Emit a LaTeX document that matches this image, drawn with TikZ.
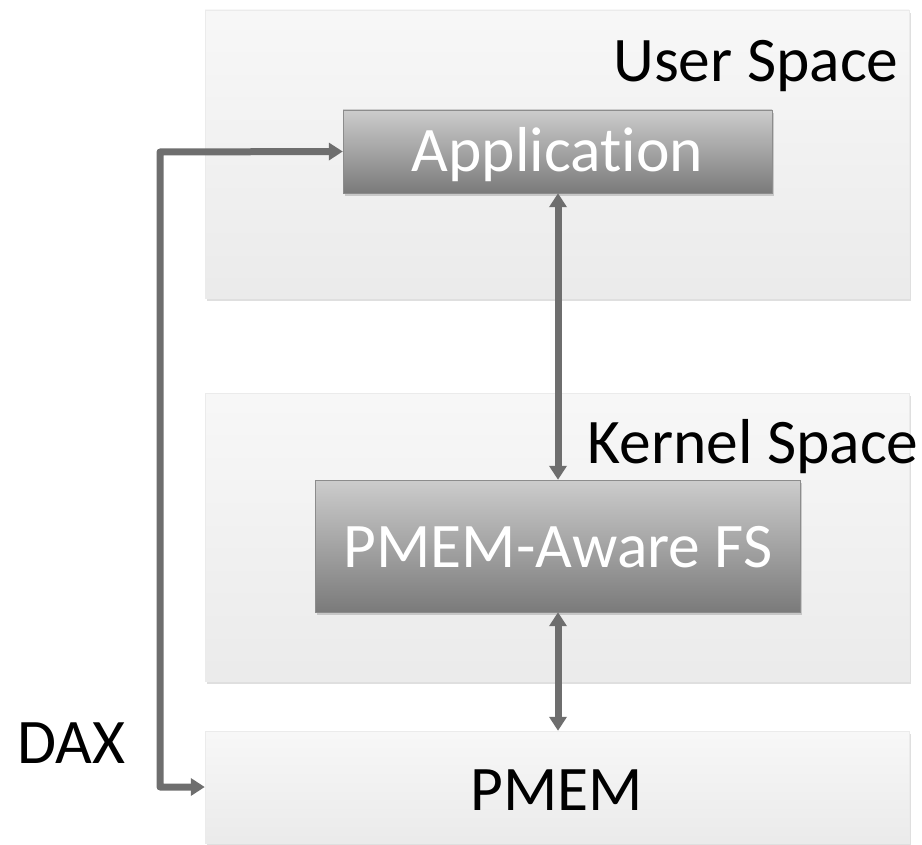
\documentclass[tikz,border=0pt]{standalone}
\usepackage{fontspec}
\setmainfont{Carlito}[Ligatures=NoCommon]
\usetikzlibrary{arrows.meta}
\usetikzlibrary{shadows}
\tikzset{
	every node/.style = {font=\fontsize{63.5}{66}\selectfont},
	space/.style = {draw=black!8, top color=black!3, bottom color=black!8, inner sep=0pt,
		drop shadow={shadow xshift=2pt, shadow yshift=-3pt, opacity=.25}},
	layer/.style = {draw=black!45, top color=black!20, bottom color=black!52, text=white, inner sep=0pt,
		drop shadow={shadow xshift=2pt, shadow yshift=-3pt, opacity=.35}},
	link/.style = {draw=black!57, line width=7pt, {Triangle[width=17pt,length=14pt]}-{Triangle[width=17pt,length=14pt]}}
}
\begin{document}
\begin{tikzpicture}[x=1pt, y=-1pt]
		\useasboundingbox (0,0) rectangle (922,845);
		% spaces
		\node[space, minimum width=704pt, minimum height=288pt] (user) at (557,154) {};
		\node[space, minimum width=704pt, minimum height=288pt] (kernel) at (557,537) {};
		\node[space, minimum width=704pt, minimum height=112pt] (pmem) at (557,787) {};
		\node[anchor=base east] (userlbl) at (902,82) {User Space};
		\node[anchor=base east] (kernellbl) at (922,463) {Kernel Space};
		\node[anchor=base] (pmemlbl) at (557,810) {PMEM};
		% layers
		\node[layer, minimum width=429pt, minimum height=83pt] (app) at (557.5,151.5) {};
		\node[layer, minimum width=485pt, minimum height=132pt] (fs) at (557.5,546) {};
		\node[anchor=base, text=white] (applbl) at (557.5,172) {Application};
		\node[anchor=base, text=white] (fslbl) at (558,567) {PMEM-Aware FS};
		% links
		\draw[link] (app.south -| 558,0) -- (fs.north -| 558,0);
		\draw[link] (fs.south -| 558,0) -- (pmem.north -| 558,0);
		\draw[link, line join=round] (app.west) -- (160,152) -- (160,787) -- (pmem.west);
		\node[anchor=base west] (dax) at (14,763) {DAX};
	\end{tikzpicture}
\end{document}
